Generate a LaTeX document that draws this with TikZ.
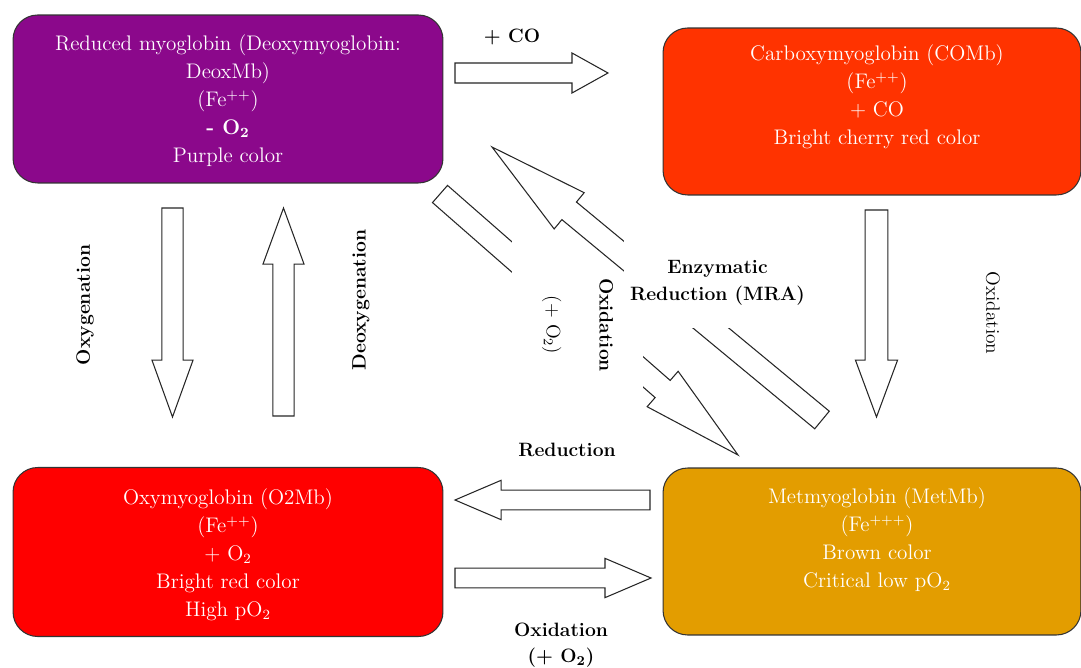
\documentclass[tikz,border=0pt]{standalone}
\usepackage{tikz}
\usetikzlibrary{calc, positioning}

\definecolor{deoxcol}{RGB}{139,8,139}
\definecolor{combcol}{RGB}{255,51,0}
\definecolor{oxycol}{RGB}{255,0,0}
\definecolor{metcol}{RGB}{227,157,0}

\tikzset{
  mbbox/.style={draw=black!80, line width=0.6pt, rounded corners=14pt},
  mbtext/.style={text=white, align=center, font=\fontsize{12}{15.9}\selectfont},
  lbl/.style={align=center, font=\fontsize{11}{13}\selectfont\bfseries},
  fat/.style n args={3}{draw=black!85, fill=white, line width=0.6pt, to path={
    let \p1=($(\tikztotarget)-(\tikztostart)$), \n1={atan2(\y1,\x1)}, \n2={veclen(\x1,\y1)} in
    ($(\tikztostart)+({\n1+90}:#1)$)
    -- ($(\tikztostart)+({\n1}:{\n2-#3})+({\n1+90}:#1)$)
    -- ($(\tikztostart)+({\n1}:{\n2-#3})+({\n1+90}:#2)$)
    -- (\tikztotarget)
    -- ($(\tikztostart)+({\n1}:{\n2-#3})+({\n1-90}:#2)$)
    -- ($(\tikztostart)+({\n1}:{\n2-#3})+({\n1-90}:#1)$)
    -- ($(\tikztostart)+({\n1-90}:#1)$) -- cycle}},
}

\begin{document}
\begin{tikzpicture}[x=0.02cm, y=-0.02cm]
  \useasboundingbox (0,0) rectangle (1081,668);

  \node[mbbox, fill=deoxcol, minimum width=8.6cm, minimum height=3.36cm] (deox) at (228,99) {};
  \node[mbbox, fill=combcol, minimum width=8.36cm, minimum height=3.34cm] (comb) at (872,111.5) {};
  \node[mbbox, fill=oxycol, minimum width=8.6cm, minimum height=3.38cm] (oxy) at (228,552) {};
  \node[mbbox, fill=metcol, minimum width=8.36cm, minimum height=3.34cm] (met) at (872,551.5) {};

  \node[mbtext] (deoxt) at (228,101) {Reduced myoglobin (Deoxymyoglobin:\\DeoxMb)\\(Fe\textsuperscript{++})\\\textbf{- O\textsubscript{2}}\\Purple color};
  \node[mbtext] (combt) at (877,97) {Carboxymyoglobin (COMb)\\(Fe\textsuperscript{++})\\+ CO\\Bright cherry red color};
  \node[mbtext] (oxyt) at (228,555) {Oxymyoglobin (O2Mb)\\(Fe\textsuperscript{++})\\+ O\textsubscript{2}\\Bright red color\\High pO\textsubscript{2}};
  \node[mbtext] (mett) at (877,540) {Metmyoglobin (MetMb)\\(Fe\textsuperscript{+++})\\Brown color\\Critical low pO\textsubscript{2}};

  \coordinate (co1) at (455,73);
  \coordinate (co2) at (608,73);
  \coordinate (ox1) at (172.5,208);
  \coordinate (ox2) at (172.5,417);
  \coordinate (dx1) at (283.5,416);
  \coordinate (dx2) at (283.5,208);
  \coordinate (cm1) at (876.5,210);
  \coordinate (cm2) at (876.5,417);
  \coordinate (rd1) at (650,500);
  \coordinate (rd2) at (455,500);
  \coordinate (ot1) at (455,578);
  \coordinate (ot2) at (651,578);
  \coordinate (da1) at (440,194);
  \coordinate (da2) at (738,455);
  \coordinate (db1) at (822,420);
  \coordinate (db2) at (492,147);

  \draw[fat={5.7pt}{11.4pt}{20.5pt}] (co1) to (co2);
  \draw[fat={6pt}{11.7pt}{32.4pt}] (ox1) to (ox2);
  \draw[fat={6pt}{11.7pt}{32pt}] (dx1) to (dx2);
  \draw[fat={6.5pt}{12pt}{32.4pt}] (cm1) to (cm2);
  \draw[fat={5.6pt}{11.2pt}{26.2pt}] (rd1) to (rd2);
  \draw[fat={5.6pt}{11.2pt}{26.2pt}] (ot1) to (ot2);

  \draw[fat={6.5pt}{13.4pt}{57pt}] (da1) to (da2);
  \node[lbl, fill=white, rotate=-90, minimum width=3.48cm, minimum height=2.62cm] (oxl) at (577.5,325) {Oxidation\\[17pt]\mdseries(+ O\textsubscript{2})};
  \draw[fat={6.5pt}{13.4pt}{57pt}] (db1) to (db2);
  \node[lbl, fill=white, minimum width=3.7cm, minimum height=1.8cm, font=\fontsize{11}{15.4}\selectfont\bfseries] (enz) at (717.5,283) {Enzymatic\\Reduction (MRA)};

  \node[lbl] (col) at (512,37) {+ CO};
  \node[lbl, rotate=90] (oxgl) at (85,305) {Oxygenation};
  \node[lbl, rotate=90] (dxgl) at (361,300) {Deoxygenation};
  \node[lbl, rotate=-90, font=\fontsize{11}{13}\selectfont] (cml) at (993,313) {Oxidation};
  \node[lbl] (rdl) at (567,450) {Reduction};
  \node[lbl, font=\fontsize{11}{14.8}\selectfont\bfseries] (otl) at (561,645) {Oxidation\\(+ O\textsubscript{2})};
\end{tikzpicture}
\end{document}
